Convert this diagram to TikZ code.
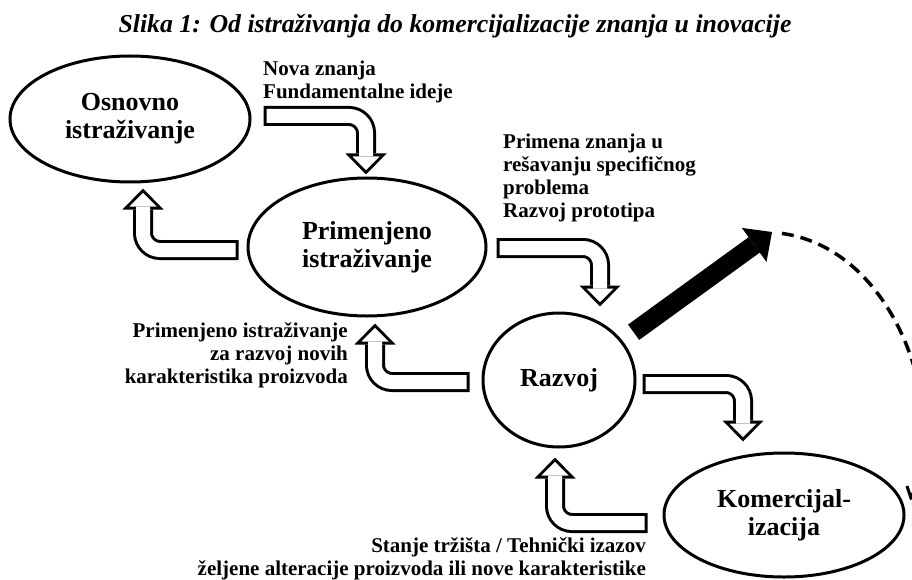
\documentclass[tikz,border=0pt]{standalone}
\usepackage{fontspec}
\setmainfont{Liberation Serif}
\usetikzlibrary{shapes.geometric,arrows.meta}
\newcommand{\hollow}[2]{\draw[hol] #1 -| #2; \draw[holin] #1 -| #2;}

\begin{document}
\begin{tikzpicture}[
  x=1pt, y=-1pt,
  blob/.style={draw, ellipse, line width=3pt, inner sep=0pt, align=center, font=\fontsize{26}{28}\selectfont\bfseries},
  lbl/.style={inner sep=0pt, font=\fontsize{21}{23}\selectfont\bfseries},
  hol/.style={line width=20pt, rounded corners=17pt, -{Triangle[width=41pt,length=21pt,line width=0pt]}},
  holin/.style={white, line width=14pt, rounded corners=17pt, shorten <=3pt, shorten >=4.3pt, -{Triangle[width=27pt,length=13.7pt,line width=0pt]}},
  fat/.style={line width=19pt, shorten <=14pt, -{Triangle[width=42pt,length=22pt,line width=0pt]}},
  dsh/.style={line width=3.5pt, dash pattern=on 12pt off 7pt, shorten <=10pt, -{Straight Barb[length=9pt,width=18pt,line width=3pt]}}
]
\useasboundingbox (0,0) rectangle (912,580);

\node[font=\fontsize{25.8}{28}\selectfont\bfseries\itshape] (ttl) at (455,26) {Slika 1: Od istraživanja do komercijalizacije znanja u inovacije};

\node[blob, minimum width=240pt, minimum height=126pt] (osn) at (130,119) {Osnovno\\istraživanje};
\node[blob, minimum width=238pt, minimum height=138pt] (prim) at (367,247) {Primenjeno\\istraživanje};
\node[blob, minimum width=152pt, minimum height=134pt] (raz) at (559,380) {Razvoj};
\node[blob, minimum width=240pt, minimum height=124pt] (kom) at (784,515) {Komercijal-\\izacija};

\node[lbl, anchor=north west, align=left] (lnew) at (263,61) {Nova znanja\\Fundamentalne ideje};
\node[lbl, anchor=north west, align=left] (lapp) at (503,134) {Primena znanja u\\rešavanju specifičnog\\problema\\Razvoj prototipa};
\node[lbl, anchor=north east, align=right] (lfeat) at (348,322) {Primenjeno istraživanje\\za razvoj novih\\karakteristika proizvoda};
\node[lbl, anchor=north east, align=right] (lmkt) at (646,537) {Stanje tržišta / Tehnički izazov\\željene alteracije proizvoda ili nove karakteristike};

\hollow{([shift={(12,-3)}]osn.east)}{([shift={(-1,-2)}]prim.north)}
\hollow{([shift={(-8,3)}]prim.west)}{([shift={(13,5)}]osn.south)}
\hollow{([shift={(9,1)}]prim.east)}{([shift={(41,-5)}]raz.north)}
\hollow{([shift={(-12,2)}]raz.west)}{([shift={(8,6)}]prim.south)}
\hollow{([shift={(6,4)}]raz.east)}{([shift={(-41,-10)}]kom.north)}
\hollow{([shift={(-15,8)}]kom.west)}{([shift={(-4,9)}]raz.south)}

\coordinate (mkt) at (772,232);
\coordinate (back) at (910,500);
\draw[fat] (raz.32) -- (mkt);
\draw[dsh] (mkt) .. controls (900,250) and (950,420) .. (back);
\end{tikzpicture}
\end{document}
